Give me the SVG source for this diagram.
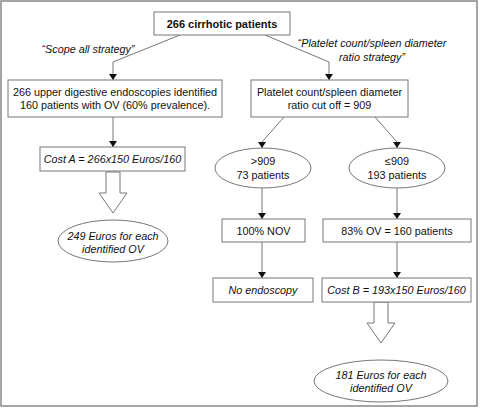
<svg xmlns="http://www.w3.org/2000/svg" width="480" height="408" viewBox="0 0 480 408">
<defs>
<marker id="ah" viewBox="0 0 6 8" refX="6" refY="4" markerWidth="6" markerHeight="8" markerUnits="userSpaceOnUse" orient="auto">
<path d="M0,0 L6,4 L0,8 Z" fill="#111"/>
</marker>
</defs>
<style>
.b{fill:#fff;stroke:#777;stroke-width:1}
.t{font-family:"Liberation Sans",Arial,sans-serif;font-size:10.8px;fill:#111;text-anchor:middle}
.i{font-style:italic}
.bd{font-weight:bold;font-size:11px}
.c{fill:none;stroke:#666;stroke-width:0.9}
.ba{fill:#fff;stroke:#777;stroke-width:1}
</style>
<rect x="1" y="1" width="476" height="405" fill="#fff" stroke="#888" stroke-width="1.5"/>
<g id="connectors">
<polyline class="c" points="180,35 113,62 113,80" marker-end="url(#ah)"/>
<polyline class="c" points="265,35 329,62 329,80" marker-end="url(#ah)"/>
<line class="c" x1="113" y1="117" x2="113" y2="147" marker-end="url(#ah)"/>
<polyline class="c" points="284,117 262,142 262,148" marker-end="url(#ah)"/>
<polyline class="c" points="375,117 397,142 397,148" marker-end="url(#ah)"/>
<line class="c" x1="262" y1="188" x2="262" y2="219" marker-end="url(#ah)"/>
<line class="c" x1="397" y1="188" x2="397" y2="219" marker-end="url(#ah)"/>
<line class="c" x1="262" y1="242" x2="262" y2="278" marker-end="url(#ah)"/>
<line class="c" x1="397" y1="242" x2="397" y2="278" marker-end="url(#ah)"/>
<polygon class="ba" points="106,172 120,172 120,193 127,193 113,213 99,193 106,193"/>
<polygon class="ba" points="374,302 388,302 388,323 395,323 381,343 367,323 374,323"/>
</g>
<g id="n-top">
<rect class="b" x="154" y="12" width="136" height="23"/>
<text class="t bd" x="222" y="27.5">266 cirrhotic patients</text>
</g>
<g id="lbl-scope">
<text class="t i" x="88" y="53">“Scope all strategy”</text>
</g>
<g id="lbl-platelet">
<text class="t i" x="372" y="47">“Platelet count/spleen diameter</text>
<text class="t i" x="372" y="61">ratio strategy”</text>
</g>
<g id="n-endo">
<rect class="b" x="8" y="80" width="214" height="37"/>
<text class="t" x="115" y="96">266 upper digestive endoscopies identified</text>
<text class="t" x="115" y="109">160 patients with OV (60% prevalence).</text>
</g>
<g id="n-ratio">
<rect class="b" x="251" y="80" width="157" height="37"/>
<text class="t" x="329.5" y="96">Platelet count/spleen diameter</text>
<text class="t" x="329.5" y="109">ratio cut off = 909</text>
</g>
<g id="n-costA">
<rect class="b" x="40" y="147" width="145" height="24"/>
<text class="t i" x="112.5" y="163">Cost A = 266x150 Euros/160</text>
</g>
<g id="n-resA">
<ellipse class="b" cx="113" cy="241" rx="55" ry="21"/>
<text class="t i" x="113" y="240">249 Euros for each</text>
<text class="t i" x="113" y="253">identified OV</text>
</g>
<g id="n-gt">
<ellipse class="b" cx="263" cy="168" rx="48" ry="20"/>
<text class="t" x="263" y="165">&gt;909</text>
<text class="t" x="263" y="179">73 patients</text>
</g>
<g id="n-le">
<ellipse class="b" cx="397" cy="168" rx="48" ry="20"/>
<text class="t" x="397" y="165">≤909</text>
<text class="t" x="397" y="179">193 patients</text>
</g>
<g id="n-nov">
<rect class="b" x="222" y="219" width="83" height="23"/>
<text class="t" x="263.5" y="234.5">100% NOV</text>
</g>
<g id="n-ov">
<rect class="b" x="323" y="219" width="148" height="23"/>
<text class="t" x="397" y="234.5">83% OV = 160 patients</text>
</g>
<g id="n-noendo">
<rect class="b" x="213" y="278" width="100" height="24"/>
<text class="t i" x="263" y="293.5">No endoscopy</text>
</g>
<g id="n-costB">
<rect class="b" x="322" y="278" width="149" height="24"/>
<text class="t i" x="396.5" y="293.5">Cost B = 193x150 Euros/160</text>
</g>
<g id="n-resB">
<ellipse class="b" cx="381" cy="381" rx="67" ry="21"/>
<text class="t i" x="381" y="379">181 Euros for each</text>
<text class="t i" x="381" y="392">identified OV</text>
</g>
</svg>
